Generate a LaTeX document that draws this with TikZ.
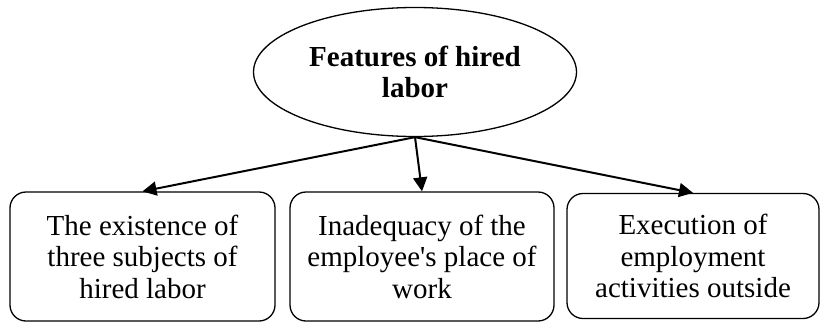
\documentclass[tikz,border=0pt]{standalone}
\usepackage{fontspec}
\setmainfont{Liberation Serif}
\usetikzlibrary{shapes.geometric,arrows.meta}

\tikzset{
    featbox/.style={draw, line width=1.3pt, rounded corners=16pt, minimum width=265pt,
        minimum height=129pt, inner sep=0pt, align=center, font=\fontsize{29}{31.5}\selectfont},
    featarrow/.style={-{Triangle[length=14pt,width=14pt]}, line width=2pt}
}

\begin{document}
\begin{tikzpicture}[x=1pt, y=-1pt]
        \useasboundingbox (0,0) rectangle (821,324);

        \node[draw, ellipse, line width=1.3pt, minimum width=323pt, minimum height=129pt,
            inner sep=0pt, align=center, font=\fontsize{29}{31.5}\selectfont\bfseries]
            (feat) at (415,72) {Features of hired\\labor};

        \node[featbox] (subj) at (142.5,256.5) {The existence of\\three subjects of\\hired labor};
        \node[featbox, minimum width=264pt] (place) at (422,256.5) {Inadequacy of the\\employee\textquotesingle s place of\\work};
        \node[featbox, minimum width=252pt, minimum height=125pt] (exec) at (693,256) {Execution of\\employment\\activities outside};

        \draw[featarrow] (feat.south) -- (subj.north);
        \draw[featarrow] (feat.south) -- (place.north);
        \draw[featarrow] (feat.south) -- (exec.north);

    \end{tikzpicture}
\end{document}
